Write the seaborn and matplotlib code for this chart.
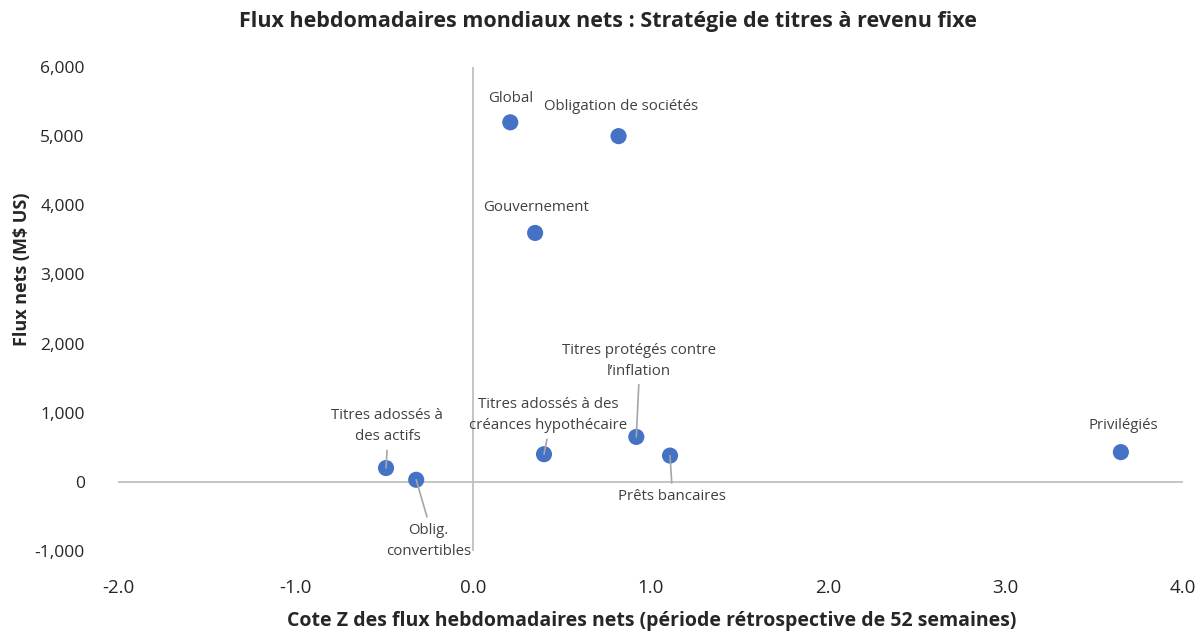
import matplotlib
matplotlib.use("Agg")
import matplotlib.pyplot as plt
import seaborn as sns
import pandas as pd
from matplotlib.ticker import FuncFormatter, FixedLocator

# ---- data ----
categories = ["Global", "Obligation de sociétés", "Gouvernement",
              "Titres adossés à\ndes actifs", "Oblig.\nconvertibles",
              "Titres adossés à des\ncréances hypothécaire",
              "Titres protégés contre\nl’inflation", "Prêts bancaires", "Privilégiés"]
z_scores = [0.21, 0.82, 0.35, -0.49, -0.32, 0.40, 0.92, 1.11, 3.65]
net_flows = [5200, 5000, 3600, 200, 30, 400, 650, 380, 430]
x_ticks = [-2.0, -1.0, 0.0, 1.0, 2.0, 3.0, 4.0]
y_ticks = [-1000, 0, 1000, 2000, 3000, 4000, 5000, 6000]

# label offsets (points, text centre relative to point) and leader flags
label_offsets = [(0, 17), (1.5, 21), (0.7, 18), (1, 30), (9, -44),
                 (3, 28), (2, 55), (1.5, -29.5), (1.5, 19.5)]
leaders = [False, False, False, True, True, True, True, True, False]

df = pd.DataFrame({"cat": categories, "z": z_scores, "flow": net_flows})

sns.set_theme(style="white")
plt.rcParams["font.family"] = ["Open Sans", "DejaVu Sans"]

fig = plt.figure(figsize=(12, 6.34), dpi=100)
ax = fig.add_axes([118/1200, 1 - 551/634, (1183-118)/1200, (551-67)/634])

ax.axhline(0, color="#BFBFBF", lw=1.3, zorder=1)
ax.axvline(0, color="#BFBFBF", lw=1.3, zorder=1)

sns.scatterplot(data=df, x="z", y="flow", ax=ax, s=135, color="#4472C4",
                edgecolor="none", zorder=3, legend=False)

for cat, x, y, off, lead in zip(categories, z_scores, net_flows, label_offsets, leaders):
    kw = {}
    if lead:
        kw["arrowprops"] = dict(arrowstyle="-", color="#A6A6A6", lw=1.2,
                                shrinkA=2, shrinkB=0,
                                relpos=(0.5, 0) if off[1] > 0 else (0.5, 1))
    ax.annotate(cat, xy=(x, y), xytext=off, textcoords="offset points",
                ha="center", va="center", fontsize=10.8, color="#404040",
                linespacing=1.55, zorder=4, **kw)

ax.set_xlim(-2, 4)
ax.set_ylim(-1000, 6000)
ax.xaxis.set_major_locator(FixedLocator(x_ticks))
ax.yaxis.set_major_locator(FixedLocator(y_ticks))
ax.xaxis.set_major_formatter(FuncFormatter(lambda v, p: f"{v:.1f}"))
ax.yaxis.set_major_formatter(FuncFormatter(lambda v, p: f"{v:,.0f}"))
ax.tick_params(axis="both", length=0, colors="#262626")
ax.tick_params(axis="x", pad=20, labelsize=13.5)
ax.tick_params(axis="y", pad=24, labelsize=12.5)
for s in ax.spines.values():
    s.set_visible(False)
ax.grid(False)
ax.set_xlabel("")
ax.set_ylabel("")

fig.text(652/1200, 1 - 621/634,
         "Cote Z des flux hebdomadaires nets (période rétrospective de 52 semaines)",
         ha="center", va="center", fontsize=14, fontweight="bold", color="#262626")
fig.text(22/1200, 1 - 269/634, "Flux nets (M$ US)", rotation=90,
         ha="center", va="center", fontsize=13, fontweight="bold", color="#262626")
fig.text(608/1200, 1 - 22/634, "Flux hebdomadaires mondiaux nets : Stratégie de titres à revenu fixe",
         ha="center", va="center", fontsize=15.5, fontweight="bold", color="#262626")

fig.savefig("out.png", dpi=100)
